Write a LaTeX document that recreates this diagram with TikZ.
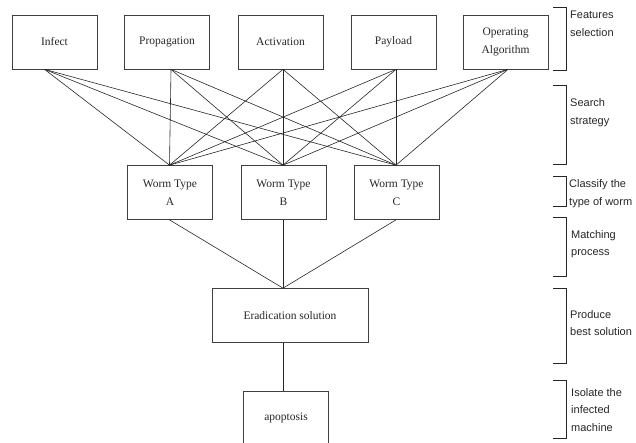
\documentclass[tikz,border=0pt]{standalone}
\usepackage{fontspec}
\setmainfont{Liberation Serif}
\setsansfont{Liberation Sans}
\begin{document}
\begin{tikzpicture}[x=1pt,y=-1pt,
	box/.style={draw=black!75,line width=0.7pt,minimum width=85pt,minimum height=54pt,align=center,inner sep=1pt,text=black!85,font=\fontsize{11.5}{18}\selectfont},
	link/.style={black!85,line width=0.6pt},
	bracket/.style={black!85,line width=0.8pt},
	phase/.style={anchor=west,align=left,inner sep=0pt,text=black!85,font=\sffamily\fontsize{11}{17.5}\selectfont}]
	\useasboundingbox (0,0) rectangle (636,442);
	% features
	\node[box] (infect) at (54.5,42) {Infect};
	\node[box] (propag) at (167,42) {Propagation};
	\node[box] (activ) at (280.5,42) {Activation};
	\node[box] (payload) at (393.5,42) {Payload};
	\node[box] (operat) at (505.5,42) {Operating\\Algorithm};
	% worm types
	\node[box] (wormA) at (170,192.5) {Worm Type\\A};
	\node[box] (wormB) at (283.5,192.5) {Worm Type\\B};
	\node[box] (wormC) at (396.5,192.5) {Worm Type\\C};
	\node[box,minimum width=156pt] (erad) at (290,315.5) {Eradication solution};
	\node[box] (apop) at (286,418) {apoptosis};
	% search strategy
	\foreach \f/\dx in {infect/-10,propag/4,activ/2.5,payload/2.5,operat/2.5}
	\foreach \w in {wormA,wormB,wormC}
	\draw[link] ([xshift=\dx pt]\f.south) -- ([xshift=-0.5pt]\w.north);
	% matching
	\foreach \w in {wormA,wormB,wormC}
	\draw[link] ([xshift=-0.5pt]\w.south) -- ([xshift=-0.5pt]wormB.south |- erad.north);
	\draw[link] ([xshift=-0.5pt]wormB.south |- erad.south) -- ([xshift=-0.5pt]wormB.south |- apop.north);
	% phases
	\draw[bracket] (553,7) -- (566,7) -- (566,70) -- (553,70);
	\node[phase] (featsel) at (570,24) {Features\\selection};
	\draw[bracket] (553,85) -- (566,85) -- (566,164) -- (553,164);
	\node[phase] (search) at (570,112.5) {Search\\strategy};
	\draw[bracket] (553,176) -- (566,176) -- (566,206) -- (553,206);
	\node[phase] (classify) at (569,193.5) {Classify the\\type of worm};
	\draw[bracket] (553,217) -- (566,217) -- (566,276) -- (553,276);
	\node[phase] (matching) at (571,244) {Matching\\ process};
	\draw[bracket] (553,288) -- (566,288) -- (566,363) -- (553,363);
	\node[phase] (produce) at (570,323) {Produce\\best solution};
	\draw[bracket] (553,380) -- (566,380) -- (566,438) -- (553,438);
	\node[phase] (isolate) at (571,410) {Isolate the\\infected\\machine};
\end{tikzpicture}
\end{document}
